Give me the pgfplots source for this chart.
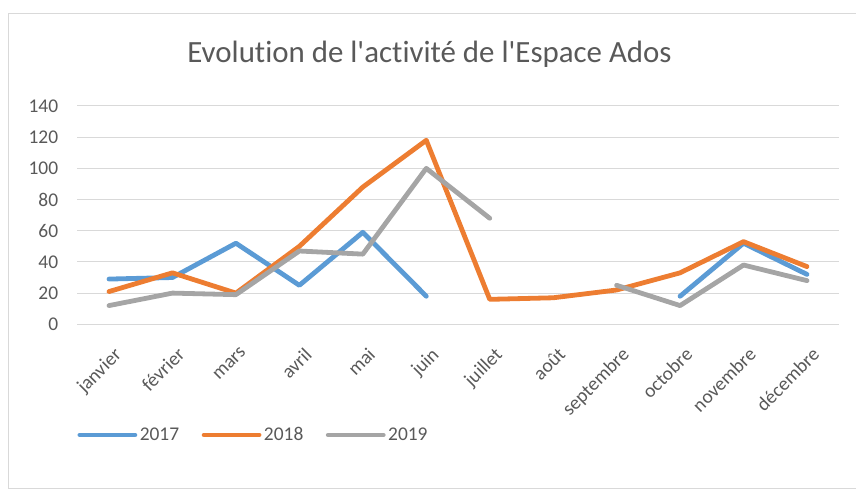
\documentclass[border=0pt]{standalone}
\usepackage{pgfplots}
\pgfplotsset{compat=1.18}
\usepackage{fontspec}
\setmainfont{Carlito}[Ligatures={NoCommon}]
\definecolor{c17}{HTML}{5B9BD5}
\definecolor{c18}{HTML}{ED7D31}
\definecolor{c19}{HTML}{A5A5A5}
\definecolor{txt}{HTML}{595959}
\definecolor{grd}{HTML}{D9D9D9}
\begin{document}
\begin{tikzpicture}[x=1bp,y=1bp]
\path[use as bounding box] (0,0) rectangle (856,492);
\draw[grd, line width=1bp] (8,3) rectangle (860,478);
\node[anchor=base, text=txt, font=\fontsize{31}{36}\selectfont, inner sep=0pt] at (429.5,429) {Evolution de l\textquotesingle activité de l\textquotesingle Espace Ados};
\begin{axis}[
  at={(77.3bp,167.7bp)}, anchor=south west,
  scale only axis, width=761.4bp, height=218.3bp,
  xmin=-0.5, xmax=11.5, ymin=0, ymax=140,
  xtick={0,...,11},
  xticklabels={janvier,février,mars,avril,mai,juin,juillet,août,septembre,octobre,novembre,décembre},
  ytick={0,20,...,140},
  axis line style={draw=none},
  major tick length=0pt,
  ymajorgrids, grid style={grd, line width=1bp},
  tick label style={text=txt, font=\fontsize{19.5}{22}\selectfont},
  /pgf/number format/assume math mode=true,
  yticklabel style={anchor=east, inner sep=0pt, xshift=-19bp},
  xticklabel style={xshift=4bp, yshift=-22bp, rotate=45, anchor=north east, inner sep=0pt},
  unbounded coords=jump,
  every axis plot/.append style={line width=4.8bp, line join=round, line cap=round},
  legend columns=3,
  legend style={at={(0,-0.507)}, anchor=west, draw=none, fill=none, inner sep=0pt,
    font=\fontsize{19.5}{22}\selectfont, text=txt,
    nodes={inner sep=2.5bp},
    /tikz/every even column/.append style={column sep=20bp}},
  legend image code/.code={\draw[#1, line cap=round] (0bp,0bp) -- (55bp,0bp);},
]
\addplot[c17] table {
x y
0 29
1 30
2 52
3 25
4 59
5 18
6 nan
7 nan
8 nan
9 18
10 52
11 32
};
\addlegendentry{2017}
\addplot[c18] table {
x y
0 21
1 33
2 20
3 50
4 88
5 118
6 16
7 17
8 22
9 33
10 53
11 37
};
\addlegendentry{2018}
\addplot[c19] table {
x y
0 12
1 20
2 19
3 47
4 45
5 100
6 68
7 nan
8 25
9 12
10 38
11 28
};
\addlegendentry{2019}
\end{axis}
\end{tikzpicture}
\end{document}
